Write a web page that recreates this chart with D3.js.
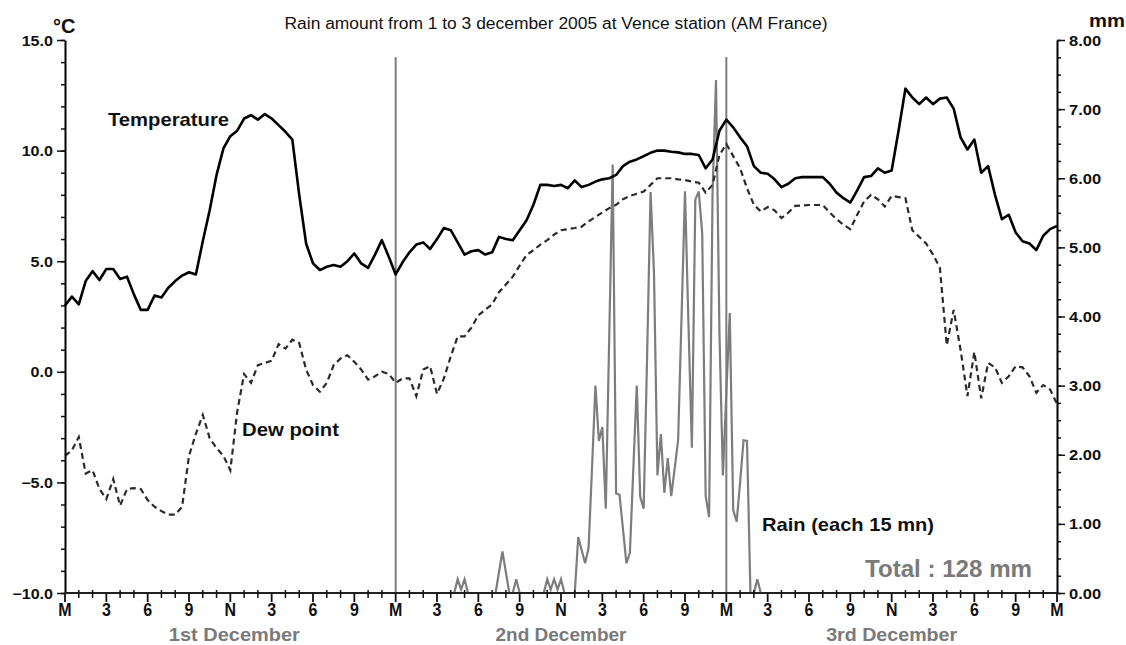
<!DOCTYPE html>
<html><head><meta charset="utf-8">
<script src="https://cdn.jsdelivr.net/npm/d3@7"></script>
<style>
html,body{margin:0;padding:0;background:#fff;}
svg{display:block;font-family:"Liberation Sans",Arial,Helvetica,sans-serif;}
</style></head><body>
<svg id="chart" width="1126" height="645"></svg>
<script>
// ---------------- DATA ----------------
// Temperature (°C), one value every 30 minutes from midnight 1 Dec to midnight 4 Dec
const tempStepHours = 0.5;
const temperature = [
  3.0, 3.4, 3.05, 4.1, 4.55, 4.15,
  4.65, 4.65, 4.2, 4.3, 3.5, 2.8,
  2.8, 3.45, 3.36, 3.8, 4.1, 4.35,
  4.5, 4.4, 5.9, 7.3, 8.9, 10.1,
  10.65, 10.9, 11.45, 11.6, 11.4, 11.65,
  11.45, 11.15, 10.85, 10.5, 8.0, 5.8,
  4.9, 4.6, 4.75, 4.83, 4.75, 5.0,
  5.35, 4.9, 4.7, 5.3, 5.95, 5.2,
  4.4, 4.95, 5.4, 5.75, 5.85, 5.55,
  6.0, 6.5, 6.4, 5.85, 5.3, 5.45,
  5.5, 5.3, 5.4, 6.1, 6.0, 5.95,
  6.4, 6.85, 7.55, 8.45, 8.45, 8.4,
  8.45, 8.3, 8.65, 8.35, 8.45, 8.6,
  8.7, 8.75, 8.9, 9.3, 9.5, 9.6,
  9.75, 9.9, 10.0, 10.0, 9.95, 9.92,
  9.85, 9.85, 9.8, 9.2, 9.6, 10.9,
  11.4, 11.05, 10.6, 10.2, 9.3, 9.0,
  8.95, 8.7, 8.35, 8.5, 8.75, 8.8,
  8.8, 8.8, 8.8, 8.5, 8.1, 7.85,
  7.65, 8.2, 8.8, 8.85, 9.2, 9.0,
  9.1, 10.9, 12.8, 12.4, 12.1, 12.4,
  12.1, 12.35, 12.4, 11.9, 10.6, 10.05,
  10.5, 9.0, 9.3, 8.0, 6.9, 7.1,
  6.3, 5.9, 5.8, 5.5, 6.15, 6.45,
  6.6
];
// Dew point (°C), one value every 30 minutes
const dewPoint = [
  -3.8, -3.55, -2.95, -4.6, -4.45, -5.3,
  -5.75, -4.85, -6.05, -5.3, -5.26, -5.3,
  -5.8, -6.1, -6.3, -6.46, -6.46, -6.1,
  -3.8, -2.8, -1.95, -3.0, -3.45, -3.8,
  -4.45, -1.8, -0.1, -0.5, 0.3, 0.4,
  0.5, 1.25, 1.05, 1.45, 1.3, 0.1,
  -0.6, -0.9, -0.5, 0.3, 0.6, 0.75,
  0.45, 0.1, -0.35, -0.2, 0.0, -0.1,
  -0.5, -0.3, -0.3, -1.1, 0.1, 0.25,
  -1.0, -0.3, 0.7, 1.6, 1.6, 2.0,
  2.55, 2.8, 3.05, 3.6, 3.95, 4.3,
  4.8, 5.28, 5.5, 5.75, 5.95, 6.2,
  6.4, 6.45, 6.5, 6.56, 6.8, 7.0,
  7.2, 7.4, 7.55, 7.8, 7.95, 8.05,
  8.15, 8.45, 8.75, 8.75, 8.75, 8.7,
  8.67, 8.6, 8.55, 8.1, 8.45, 9.8,
  10.3, 9.75, 9.2, 8.3, 7.55, 7.25,
  7.45, 7.3, 6.95, 7.2, 7.5, 7.52,
  7.54, 7.54, 7.54, 7.2, 6.9, 6.65,
  6.45, 7.1, 7.7, 8.0, 7.8, 7.47,
  7.95, 7.9, 7.85, 6.4, 6.1, 5.8,
  5.3, 4.7, 1.2, 2.8, 1.0, -1.1,
  0.9, -1.2, 0.4, 0.2, -0.5, -0.2,
  0.25, 0.2, -0.2, -0.95, -0.6, -0.8,
  -1.45
];
// Rain (mm per 15 minutes), from midnight 2 Dec (hour 24) to 3 AM 3 Dec (hour 51)
const rainStartHour = 24;
const rainStepHours = 0.25;
const rain = [
  0, 0, 0, 0,            // 24h
  0, 0, 0, 0,            // 25h
  0, 0, 0, 0,            // 26h
  0, 0, 0, 0,            // 27h
  0, 0, 0.2, 0.05,       // 28h
  0.2, 0, 0, 0,          // 29h
  0, 0, 0, 0,            // 30h
  0, 0, 0.3, 0.6,        // 31h
  0.3, 0, 0, 0.2,        // 32h
  0, 0, 0, 0,            // 33h
  0, 0, 0, 0,            // 34h
  0.2, 0.05, 0.2, 0.05,  // 35h
  0.2, 0, 0, 0,          // 36h
  0, 0.81, 0.62, 0.43,   // 37h
  0.65, 1.8, 3.0, 2.2,   // 38h
  2.4, 1.22, 3.7, 6.2,   // 39h
  1.44, 1.42, 0.92, 0.43,// 40h
  0.58, 1.8, 3.0, 1.39,  // 41h
  1.22, 3.42, 5.8, 4.63, // 42h
  1.7, 2.3, 1.45, 1.95,  // 43h
  1.4, 1.8, 2.21, 4.0,   // 44h
  5.81, 3.9, 2.1, 5.69,  // 45h
  5.81, 5.2, 1.4, 1.1,   // 46h
  5.78, 7.42, 3.76, 1.7, // 47h
  2.9, 4.05, 1.2, 1.03,  // 48h
  1.6, 2.21, 2.2, 0,     // 49h
  0, 0.2, 0, 0,          // 50h
  0                      // 51h
];
const hourTicks = d3.range(0, 73, 3);
const hourLabels = ["M","3","6","9","N","3","6","9","M","3","6","9","N","3","6","9","M","3","6","9","N","3","6","9","M"];
const dayLabels = ["1st December", "2nd December", "3rd December"];
const dayCenterHours = [12, 36, 60];
const midnightHours = [24, 48];
const tempTicks = [-10, -5, 0, 5, 10, 15];
const rainTicks = [0, 1, 2, 3, 4, 5, 6, 7, 8];
const titleText = "Rain amount from 1 to 3 december 2005 at Vence station (AM France)";

// ---------------- CHART ----------------
const svg = d3.select("#chart");
const L = 65, R = 1057, T = 40, B = 593;
const x = d3.scaleLinear().domain([0, 72]).range([L, R]);
const yT = d3.scaleLinear().domain([-10, 15]).range([B, T]);
const yR = d3.scaleLinear().domain([0, 8]).range([B, T]);

const GRAY = "#7d7d7d";

// Rain line
const rainLine = d3.line()
  .x((d, i) => x(rainStartHour + i * rainStepHours))
  .y(d => yR(d));
svg.append("path").datum(rain)
  .attr("d", rainLine)
  .attr("fill", "none").attr("stroke", GRAY).attr("stroke-width", 2.2)
  .attr("stroke-linejoin", "miter");

// Midnight markers
svg.append("g").selectAll("line").data(midnightHours).join("line")
  .attr("x1", d => x(d)).attr("x2", d => x(d))
  .attr("y1", 57).attr("y2", B)
  .attr("stroke", GRAY).attr("stroke-width", 2);

// Dew point
const tLine = d3.line()
  .x((d, i) => x(i * tempStepHours))
  .y(d => yT(d));
svg.append("path").datum(dewPoint)
  .attr("d", tLine)
  .attr("fill", "none").attr("stroke", "#2b2b2b").attr("stroke-width", 2.2)
  .attr("stroke-dasharray", "6 4");

// Temperature
svg.append("path").datum(temperature)
  .attr("d", tLine)
  .attr("fill", "none").attr("stroke", "#000").attr("stroke-width", 2.6)
  .attr("stroke-linejoin", "round");

// ---- Axes ----
// Left axis
const gl = svg.append("g").attr("transform", `translate(${L},0)`);
gl.call(d3.axisLeft(yT).tickValues(d3.range(-10, 16, 1)).tickSize(4).tickSizeOuter(0).tickFormat(""))
  .call(g => g.select(".domain").remove());
gl.append("g").call(d3.axisLeft(yT).tickValues(tempTicks).tickSize(8).tickSizeOuter(0).tickFormat(d3.format(".1f")))
  .call(g => g.select(".domain").attr("stroke-width", 2))
  .call(g => g.selectAll("text").attr("x", 0).attr("dy", null)
     .attr("transform", "translate(-12,5) scale(1.15,1)")
     .attr("font-size", 14).attr("font-weight", "bold").attr("fill", "#111")
     .attr("font-family", "Liberation Sans, Arial, sans-serif"));
gl.selectAll("line").attr("stroke", "#111").attr("stroke-width", 1.5);

// Right axis
const gr = svg.append("g").attr("transform", `translate(${R},0)`);
gr.call(d3.axisRight(yR).tickValues(d3.range(0, 8.01, 0.25)).tickSize(4).tickSizeOuter(0).tickFormat(""))
  .call(g => g.select(".domain").remove());
gr.append("g").call(d3.axisRight(yR).tickValues(rainTicks).tickSize(8).tickSizeOuter(0).tickFormat(d3.format(".2f")))
  .call(g => g.select(".domain").attr("stroke-width", 2))
  .call(g => g.selectAll("text").attr("x", 0).attr("dy", null)
     .attr("transform", "translate(12,5) scale(1.18,1)")
     .attr("font-size", 14).attr("font-weight", "bold").attr("fill", "#111")
     .attr("font-family", "Liberation Sans, Arial, sans-serif"));
gr.selectAll("line").attr("stroke", "#111").attr("stroke-width", 1.5);

// Bottom axis
svg.append("line").attr("x1", L).attr("x2", R).attr("y1", B).attr("y2", B)
  .attr("stroke", "#222").attr("stroke-width", 2);
svg.append("g").selectAll("line").data(d3.range(0, 73, 1).filter(h => h % 3 !== 0)).join("line")
  .attr("x1", d => x(d)).attr("x2", d => x(d)).attr("y1", B - 3).attr("y2", B + 5)
  .attr("stroke", "#111").attr("stroke-width", 1.5);
svg.append("g").selectAll("line").data(hourTicks).join("line")
  .attr("x1", d => x(d)).attr("x2", d => x(d)).attr("y1", B).attr("y2", B + 9)
  .attr("stroke", "#111").attr("stroke-width", 1.8);
svg.append("g").selectAll("text").data(hourTicks).join("text")
  .attr("transform", d => `translate(${x(d)},616) scale(1,1.1)`)
  .attr("text-anchor", "middle").attr("font-size", 16).attr("font-weight", "bold").attr("fill", "#111")
  .text((d, i) => hourLabels[i]);

// Day labels
svg.append("g").selectAll("text").data(dayLabels).join("text")
  .attr("x", (d, i) => x(dayCenterHours[i]) + (i === 0 ? 4 : 0)).attr("y", 641)
  .attr("text-anchor", "middle").attr("font-size", 19).attr("font-weight", "bold").attr("fill", "#7a7a7a")
  .attr("textLength", 131).attr("lengthAdjust", "spacingAndGlyphs")
  .text(d => d);

// Title and units
svg.append("text").attr("x", 556).attr("y", 29).attr("text-anchor", "middle")
  .attr("font-size", 16).attr("fill", "#111")
  .attr("textLength", 543).attr("lengthAdjust", "spacingAndGlyphs")
  .text(titleText);
svg.append("text").attr("x", 53).attr("y", 33).attr("font-size", 20).attr("font-weight", "bold").attr("fill", "#111").text("°C");
svg.append("text").attr("x", 1089).attr("y", 27).attr("font-size", 18).attr("font-weight", "bold").attr("fill", "#111")
  .attr("textLength", 36).attr("lengthAdjust", "spacingAndGlyphs").text("mm");

// Annotations
function note(txt, xx, yy, size, len, color) {
  svg.append("text").attr("x", xx).attr("y", yy).attr("font-size", size).attr("font-weight", "bold")
    .attr("fill", color || "#111").attr("textLength", len).attr("lengthAdjust", "spacingAndGlyphs").text(txt);
}
note("Temperature", 108, 126, 19, 121);
note("Dew point", 242, 436, 19, 97);
note("Rain (each 15 mn)", 762, 531, 19, 172);
note("Total : 128 mm", 865, 577, 24, 167, "#7a7a7a");
</script>
</body></html>
